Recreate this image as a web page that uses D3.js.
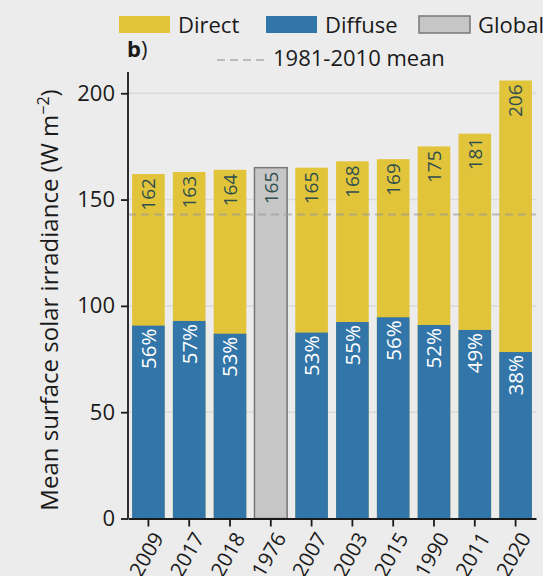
<!DOCTYPE html>
<html>
<head>
<meta charset="utf-8">
<script src="https://cdn.jsdelivr.net/npm/d3@7"></script>
<style>
  body { margin: 0; background: #ececec; }
  svg { display: block; font-family: "Open Sans", "DejaVu Sans", sans-serif; }
</style>
</head>
<body>
<div id="chart"></div>
<script>
// chart values
var years = ["2009", "2017", "2018", "1976", "2007", "2003", "2015", "1990", "2011", "2020"];
var totals = [162, 163, 164, 165, 165, 168, 169, 175, 181, 206];
var diffusePct = [56, 57, 53, null, 53, 55, 56, 52, 49, 38];
var isGlobal = [false, false, false, true, false, false, false, false, false, false];
var climMean = 143;
var yTicks = [0, 50, 100, 150, 200];

var width = 543, height = 576;
var colDirect = "#e2c43a", colDiffuse = "#3275a9", colGlobal = "#c6c6c6";
var ink = "#1a1a1a";

var svg = d3.select("#chart").append("svg")
    .attr("width", width)
    .attr("height", height);

svg.append("rect").attr("width", width).attr("height", height).attr("fill", "#ececec");

var x = d3.scaleBand()
    .domain(years)
    .range([128, 536])
    .paddingInner(0.2)
    .paddingOuter(0.1);

var y = d3.scaleLinear()
    .domain([0, 210])
    .range([518.5, 72]);

var rows = years.map(function(yr, i) {
    return {
        year: yr,
        total: totals[i],
        pct: diffusePct[i],
        diffuse: diffusePct[i] == null ? 0 : totals[i] * diffusePct[i] / 100,
        global: isGlobal[i]
    };
});

// grid
svg.append("g").selectAll("line")
    .data(yTicks.slice(1))
    .enter().append("line")
    .attr("x1", 128).attr("x2", 536)
    .attr("y1", function(d) { return y(d); })
    .attr("y2", function(d) { return y(d); })
    .attr("stroke", "#dadada")
    .attr("stroke-width", 1.5);

var bars = svg.append("g").selectAll("g")
    .data(rows)
    .enter().append("g");

// direct part (full total) then diffuse on top of it
bars.append("rect")
    .attr("x", function(d) { return x(d.year); })
    .attr("width", x.bandwidth())
    .attr("y", function(d) { return y(d.total); })
    .attr("height", function(d) { return y(0) - y(d.total); })
    .attr("fill", function(d) { return d.global ? colGlobal : colDirect; })
    .attr("stroke", function(d) { return d.global ? "#777" : "none"; })
    .attr("stroke-width", 1.5);

bars.filter(function(d) { return !d.global; })
    .append("rect")
    .attr("x", function(d) { return x(d.year); })
    .attr("width", x.bandwidth())
    .attr("y", function(d) { return y(d.diffuse); })
    .attr("height", function(d) { return y(0) - y(d.diffuse); })
    .attr("fill", colDiffuse);

// mean line
svg.append("line")
    .attr("x1", 128).attr("x2", 536)
    .attr("y1", y(climMean)).attr("y2", y(climMean))
    .attr("stroke", "#9a9a9a")
    .attr("stroke-opacity", 0.6)
    .attr("stroke-width", 2)
    .attr("stroke-dasharray", "8,5");

// total labels
bars.append("text")
    .attr("transform", function(d) {
        return "translate(" + (x(d.year) + x.bandwidth() / 2) + "," + (y(d.total) + 4) + ") rotate(-90)";
    })
    .attr("text-anchor", "end")
    .attr("dy", "0.36em")
    .attr("font-size", 19)
    .attr("fill", "#2f4f4f")
    .text(function(d) { return d.total; });

// percent labels
bars.filter(function(d) { return !d.global; })
    .append("text")
    .attr("transform", function(d) {
        return "translate(" + (x(d.year) + x.bandwidth() / 2) + "," + (y(d.diffuse) + 3) + ") rotate(-90)";
    })
    .attr("text-anchor", "end")
    .attr("dy", "0.36em")
    .attr("font-size", 20.5)
    .attr("fill", "#ffffff")
    .text(function(d) { return d.pct + "%"; });

// axes
var yAxis = svg.append("g")
    .attr("transform", "translate(128,0)")
    .call(d3.axisLeft(y).tickValues(yTicks).tickSize(7).tickPadding(6));
yAxis.selectAll("text").attr("font-size", 22).attr("fill", ink).attr("font-family", "Open Sans, DejaVu Sans, sans-serif");
yAxis.selectAll("line").attr("stroke", ink).attr("stroke-width", 1.8);
yAxis.select(".domain").attr("stroke", ink).attr("stroke-width", 1.8).attr("d", "M0," + y(0) + "V" + y(210));

var xAxis = svg.append("g")
    .attr("transform", "translate(0," + y(0) + ")")
    .call(d3.axisBottom(x).tickSize(8).tickSizeOuter(0));
xAxis.select(".domain").attr("stroke", ink).attr("stroke-width", 1.8);
xAxis.selectAll("line").attr("stroke", ink).attr("stroke-width", 1.8);
xAxis.selectAll("text")
    .attr("font-size", 20.5)
    .attr("fill", ink)
    .attr("font-family", "Open Sans, DejaVu Sans, sans-serif")
    .attr("text-anchor", "middle")
    .attr("dy", "0.35em")
    .attr("y", 0)
    .attr("transform", "translate(-2,36) rotate(-60)");

// y label
svg.append("text")
    .attr("transform", "translate(58,300) rotate(-90)")
    .attr("text-anchor", "middle")
    .attr("font-size", 24)
    .attr("fill", ink)
    .html('Mean surface solar irradiance (W m<tspan dy="-9" font-size="16">\u22122</tspan><tspan dy="9">)</tspan>');

// legend
var legendItems = [
    { label: "Direct", fill: colDirect, stroke: "none", x: 119 },
    { label: "Diffuse", fill: colDiffuse, stroke: "none", x: 266 },
    { label: "Global", fill: colGlobal, stroke: "#777", x: 419 }
];
var leg = svg.append("g").selectAll("g")
    .data(legendItems)
    .enter().append("g")
    .attr("transform", function(d) { return "translate(" + d.x + ",0)"; });
leg.append("rect")
    .attr("x", 0).attr("y", 16)
    .attr("width", 51).attr("height", 17)
    .attr("fill", function(d) { return d.fill; })
    .attr("stroke", function(d) { return d.stroke; })
    .attr("stroke-width", 1.5);
leg.append("text")
    .attr("x", 59).attr("y", 33)
    .attr("font-size", 22)
    .attr("fill", ink)
    .text(function(d) { return d.label; });

svg.append("line")
    .attr("x1", 217).attr("x2", 265)
    .attr("y1", 60).attr("y2", 60)
    .attr("stroke", "#9a9a9a")
    .attr("stroke-opacity", 0.6)
    .attr("stroke-width", 2)
    .attr("stroke-dasharray", "8,5");
svg.append("text")
    .attr("x", 273).attr("y", 66)
    .attr("font-size", 22)
    .attr("fill", ink)
    .text("1981-2010 mean");

svg.append("text")
    .attr("x", 127).attr("y", 57)
    .attr("font-size", 22)
    .attr("fill", ink)
    .html('<tspan font-weight="bold">b</tspan>)');
</script>
</body>
</html>
